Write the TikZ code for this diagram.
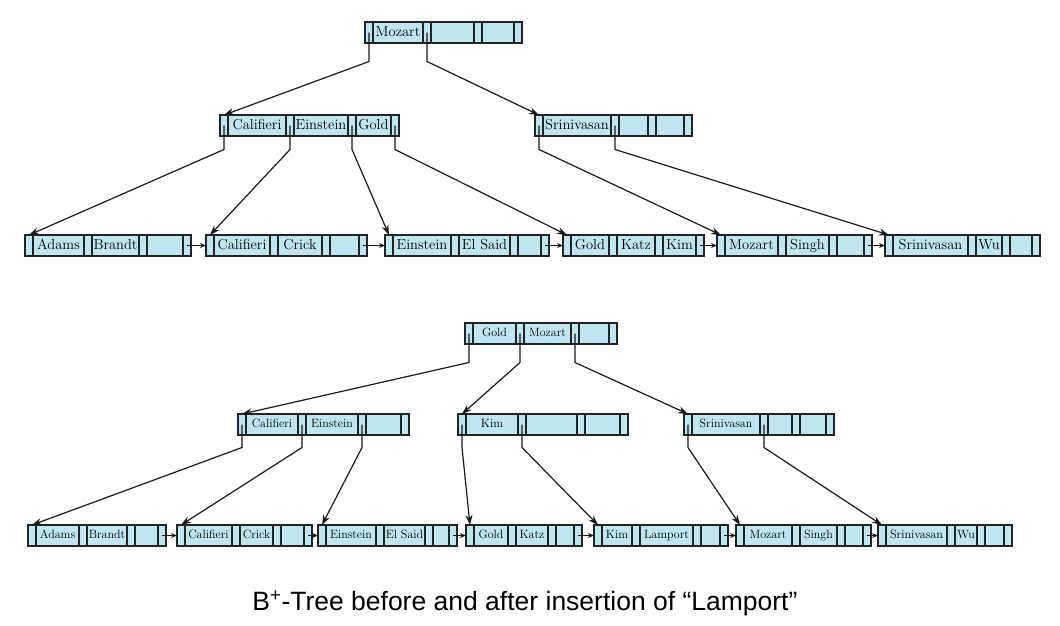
\documentclass[tikz,border=0pt]{standalone}
\usepackage{fontspec}
\newfontfamily\capfont{Liberation Sans}
\usepackage{tikz}
\usetikzlibrary{positioning}
\usetikzlibrary{arrows.meta}
\definecolor{cellblue}{RGB}{191,229,240}
\definecolor{cellline}{RGB}{35,35,35}
\tikzset{cell/.style={draw=cellline,fill=cellblue,line width=1.1pt,minimum height=21pt,inner sep=1pt,outer sep=0pt},
  ptrcell/.style={cell,minimum width=8pt},
  keycell/.style={cell,font=\fontsize{14.5}{16}\selectfont,text height=10pt,text depth=3pt},
  ptr/.style={-{Stealth[length=10pt,width=7pt]},line width=1.2pt,draw=black!90},
  nxt/.style={-{Stealth[length=6pt,width=5pt]},line width=1pt,draw=black!90},}

% one node of the tree: name, top left corner, three keys, three key widths
\newcommand{\bpnode}[8]{%
  \node[ptrcell,anchor=north west] (#1-p0) at #2 {};
  \node[keycell,minimum width=#6pt,right=0pt of #1-p0] (#1-k1) {#3};
  \node[ptrcell,right=0pt of #1-k1] (#1-p1) {};
  \node[keycell,minimum width=#7pt,right=0pt of #1-p1] (#1-k2) {#4};
  \node[ptrcell,right=0pt of #1-k2] (#1-p2) {};
  \node[keycell,minimum width=#8pt,right=0pt of #1-p2] (#1-k3) {#5};
  \node[ptrcell,right=0pt of #1-k3] (#1-p3) {};
}

\begin{document}
\begin{tikzpicture}[x=1pt,y=-1pt]
	\useasboundingbox (0,0) rectangle (1060,625);

	% before
	\bpnode{r1}{(365,22)}{Mozart}{}{}{50}{43}{32}
	\bpnode{i1}{(220,115)}{Califieri}{Einstein}{Gold}{58}{54}{35}
	\bpnode{i2}{(535,115)}{Srinivasan}{}{}{68}{29}{28}
	\bpnode{l1}{(25,235)}{Adams}{Brandt}{}{51}{47}{36}
	\bpnode{l2}{(206,235)}{Califieri}{Crick}{}{56}{44}{29}
	\bpnode{l3}{(385,235)}{Einstein}{El Said}{}{58}{51}{23}
	\bpnode{l4}{(563,235)}{Gold}{Katz}{Kim}{38}{38}{33}
	\bpnode{l5}{(717,235)}{Mozart}{Singh}{}{53}{43}{27}
	\bpnode{l6}{(885,235)}{Srinivasan}{Wu}{}{75}{26}{22}

	\draw[ptr] (r1-p0.center) -- ++(0,29) -- (i1-p0.north);
	\draw[ptr] (r1-p1.center) -- ++(0,29) -- (i2-p0.north);
	\draw[ptr] (i1-p0.center) -- ++(0,24) -- (l1-p0.north);
	\draw[ptr] (i1-p1.center) -- ++(0,24) -- (l2-p0.north);
	\draw[ptr] (i1-p2.center) -- ++(0,24) -- (l3-p0.north);
	\draw[ptr] (i1-p3.center) -- ++(0,24) -- (l4-p0.north);
	\draw[ptr] (i2-p0.center) -- ++(0,24) -- (l5-p0.north);
	\draw[ptr] (i2-p1.center) -- ++(0,24) -- (l6-p0.north);
	\draw[nxt] (l1-p3.center) -- (l2-p0.west);
	\draw[nxt] (l2-p3.center) -- (l3-p0.west);
	\draw[nxt] (l3-p3.center) -- (l4-p0.west);
	\draw[nxt] (l4-p3.center) -- (l5-p0.west);
	\draw[nxt] (l5-p3.center) -- (l6-p0.west);

	% after
	\begin{scope}[keycell/.append style={font=\fontsize{12}{14}\selectfont,text height=8.5pt,text depth=2.5pt}]
	\bpnode{r2}{(465,323)}{Gold}{Mozart}{}{43}{47}{30}
	\bpnode{j1}{(238,414)}{Califieri}{Einstein}{}{52}{52}{35}
	\bpnode{j2}{(458,414)}{Kim}{}{}{52}{51}{35}
	\bpnode{j3}{(684,414)}{Srinivasan}{}{}{68}{24}{26}
	\bpnode{m1}{(28,525)}{Adams}{Brandt}{}{43}{40}{23}
	\bpnode{m2}{(177,525)}{Califieri}{Crick}{}{47}{33}{23}
	\bpnode{m3}{(318,525)}{Einstein}{El Said}{}{50}{41}{16}
	\bpnode{m4}{(466,525)}{Gold}{Katz}{}{34}{32}{18}
	\bpnode{m5}{(594,525)}{Kim}{Lamport}{}{30}{53}{19}
	\bpnode{m6}{(736,525)}{Mozart}{Singh}{}{48}{37}{18}
	\bpnode{m7}{(878,525)}{Srinivasan}{Wu}{}{61}{22}{19}
	\end{scope}

	\draw[ptr] (r2-p0.center) -- ++(0,29) -- (j1-p0.north);
	\draw[ptr] (r2-p1.center) -- ++(0,29) -- (j2-p0.north);
	\draw[ptr] (r2-p2.center) -- ++(0,29) -- (j3-p0.north);
	\draw[ptr] (j1-p0.center) -- ++(0,23) -- (m1-p0.north);
	\draw[ptr] (j1-p1.center) -- ++(0,23) -- (m2-p0.north);
	\draw[ptr] (j1-p2.center) -- ++(0,23) -- (m3-p0.north);
	\draw[ptr] (j2-p0.center) -- ++(0,23) -- (m4-p0.north);
	\draw[ptr] (j2-p1.center) -- ++(0,23) -- (m5-p0.north);
	\draw[ptr] (j3-p0.center) -- ++(0,23) -- (m6-p0.north);
	\draw[ptr] (j3-p1.center) -- ++(0,23) -- (m7-p0.north);
	\draw[nxt] (m1-p3.center) -- (m2-p0.west);
	\draw[nxt] (m2-p3.center) -- (m3-p0.west);
	\draw[nxt] (m3-p3.center) -- (m4-p0.west);
	\draw[nxt] (m4-p3.center) -- (m5-p0.west);
	\draw[nxt] (m5-p3.center) -- (m6-p0.west);
	\draw[nxt] (m6-p3.center) -- (m7-p0.west);

	\node[font=\capfont\fontsize{26.5}{30}\selectfont] (cap) at (525,603) {B\textsuperscript{+}-Tree before and after insertion of “Lamport”};
\end{tikzpicture}
\end{document}
